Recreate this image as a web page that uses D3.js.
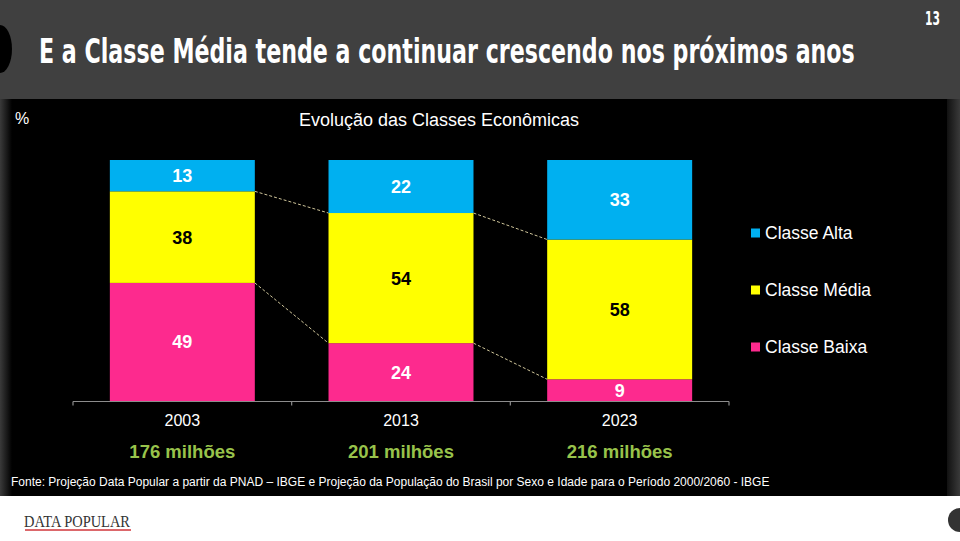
<!DOCTYPE html>
<html><head><meta charset="utf-8">
<script src="https://cdn.jsdelivr.net/npm/d3@7"></script>
<style>html,body{margin:0;padding:0;background:#fff;}svg{display:block;}</style>
</head><body>
<svg id="c" width="960" height="541"></svg>
<script>
const years = ["2003", "2013", "2023"];
const population = ["176 milhões", "201 milhões", "216 milhões"];
const seriesNames = ["Classe Baixa", "Classe Média", "Classe Alta"];
const classeBaixa = [49, 24, 9];
const classeMedia = [38, 54, 58];
const classeAlta = [13, 22, 33];
const legendOrder = ["Classe Alta", "Classe Média", "Classe Baixa"];
const colors = {"Classe Baixa": "#fd2a8e", "Classe Média": "#ffff00", "Classe Alta": "#00b0f0"};
const labelColors = {"Classe Baixa": "#ffffff", "Classe Média": "#000000", "Classe Alta": "#ffffff"};

const rows = years.map((y, i) => ({year: y, "Classe Baixa": classeBaixa[i], "Classe Média": classeMedia[i], "Classe Alta": classeAlta[i]}));
const svg = d3.select("#c");
const defs = svg.append("defs");
const lg = defs.append("linearGradient").attr("id", "lg").attr("x1", 0).attr("x2", 1);
lg.append("stop").attr("offset", 0).attr("stop-color", "#3a3a3a");
lg.append("stop").attr("offset", 1).attr("stop-color", "#000");
const rg = defs.append("linearGradient").attr("id", "rg").attr("x1", 0).attr("x2", 1);
rg.append("stop").attr("offset", 0).attr("stop-color", "#111");
rg.append("stop").attr("offset", 1).attr("stop-color", "#3a3a3a");

// header
svg.append("rect").attr("x", 0).attr("y", 0).attr("width", 960).attr("height", 99).attr("fill", "#404040");
svg.append("path").attr("d", "M0,25 A12,24 0 0 1 0,73 Z").attr("fill", "#000");
const condensed = "'DejaVu Sans Condensed','DejaVu Sans',sans-serif";
function fitText(xp, yp, w, size, str) {
  const gg = svg.append("g");
  const t = gg.append("text").attr("x", 0).attr("y", 0).attr("fill", "#fff")
    .style("font-family", condensed).style("font-weight", "bold").style("font-size", size + "px").text(str);
  const nat = t.node().getComputedTextLength();
  gg.attr("transform", `translate(${xp},${yp}) scale(${w / nat},1)`);
}
fitText(39, 63, 816, 33, "E a Classe Média tende a continuar crescendo nos próximos anos");
fitText(925, 25, 15, 19, "13");

// panel
svg.append("rect").attr("x", 0).attr("y", 99).attr("width", 960).attr("height", 397).attr("fill", "#000");
svg.append("rect").attr("x", 0).attr("y", 99).attr("width", 12).attr("height", 397).attr("fill", "url(#lg)");
svg.append("rect").attr("x", 947).attr("y", 99).attr("width", 13).attr("height", 397).attr("fill", "url(#rg)");

const font = "'Liberation Sans',Arial,Helvetica,sans-serif";
svg.append("text").attr("x", 15).attr("y", 124).attr("fill", "#fff").style("font-family", font).style("font-size", "16px").text("%");
svg.append("text").attr("x", 439).attr("y", 126).attr("text-anchor", "middle").attr("fill", "#fff")
  .style("font-family", font).style("font-size", "18px").text("Evolução das Classes Econômicas");

// scales
const x = d3.scaleBand().domain(years).range([73, 729]).padding(0);
const barW = x.bandwidth() * 0.663;
const y = d3.scaleLinear().domain([0, 100]).range([401, 160]);
const stack = d3.stack().keys(seriesNames)(rows);

// connector dashed lines
const g = svg.append("g");
[0, 1].forEach(si => {
  for (let i = 0; i < years.length - 1; i++) {
    const a = stack[si][i], b = stack[si][i + 1];
    g.append("line")
      .attr("x1", x(years[i]) + (x.bandwidth() + barW) / 2).attr("y1", y(a[1]))
      .attr("x2", x(years[i + 1]) + (x.bandwidth() - barW) / 2).attr("y2", y(b[1]))
      .attr("stroke", "#cfc59a").attr("stroke-width", 1).attr("stroke-dasharray", "3,2");
  }
});

// bars
stack.forEach(s => {
  const gg = svg.append("g");
  gg.selectAll("rect").data(s).join("rect")
    .attr("x", d => x(d.data.year) + (x.bandwidth() - barW) / 2)
    .attr("y", d => y(d[1]))
    .attr("width", barW)
    .attr("height", d => y(d[0]) - y(d[1]))
    .attr("fill", colors[s.key]);
  gg.selectAll("text").data(s).join("text")
    .attr("x", d => x(d.data.year) + x.bandwidth() / 2)
    .attr("y", d => (y(d[0]) + y(d[1])) / 2)
    .attr("dy", "0.36em")
    .attr("text-anchor", "middle")
    .attr("fill", labelColors[s.key])
    .style("font-family", font).style("font-weight", "bold").style("font-size", "18px")
    .text(d => d[1] - d[0]);
});

// axis
const axis = svg.append("g").attr("transform", "translate(0,401.5)");
axis.append("line").attr("x1", 73).attr("x2", 729).attr("stroke", "#8c8c8c").attr("stroke-width", 1.2);
axis.selectAll("line.t").data([...years.map(d => x(d)), 729]).join("line").attr("class", "t")
  .attr("x1", d => d).attr("x2", d => d).attr("y1", 0).attr("y2", 4).attr("stroke", "#8c8c8c").attr("stroke-width", 1.2);
svg.append("g").selectAll("text").data(years).join("text")
  .attr("x", d => x(d) + x.bandwidth() / 2).attr("y", 426).attr("text-anchor", "middle")
  .attr("fill", "#fff").style("font-family", font).style("font-size", "16px").text(d => d);
svg.append("g").selectAll("text").data(population).join("text")
  .attr("x", (d, i) => x(years[i]) + x.bandwidth() / 2).attr("y", 458).attr("text-anchor", "middle")
  .attr("fill", "#98c34b").style("font-family", font).style("font-weight", "bold").style("font-size", "18.5px").text(d => d);

// legend
const leg = svg.append("g");
legendOrder.forEach((k, i) => {
  const cy = 233 + i * 57;
  leg.append("rect").attr("x", 751).attr("y", cy - 4.5).attr("width", 9).attr("height", 9).attr("fill", colors[k]);
  leg.append("text").attr("x", 765).attr("y", cy + 6).attr("fill", "#fff")
    .style("font-family", font).style("font-size", "17.5px").text(k);
});

// source
svg.append("text").attr("x", 11).attr("y", 486).attr("fill", "#fff")
  .style("font-family", font).style("font-size", "12px")
  .text("Fonte: Projeção Data Popular a partir da PNAD – IBGE e  Projeção da População do Brasil por Sexo e Idade para o Período 2000/2060 - IBGE");

// footer
svg.append("text").attr("x", 24).attr("y", 527).attr("fill", "#333")
  .style("font-family", "'Liberation Serif',serif").style("font-size", "17px")
  .attr("textLength", 106).attr("lengthAdjust", "spacingAndGlyphs").text("DATA POPULAR");
svg.append("line").attr("x1", 25).attr("x2", 131).attr("y1", 530).attr("y2", 530).attr("stroke", "#d0343a").attr("stroke-width", 1.5);
svg.append("path").attr("d", "M960,508 A12,12 0 0 0 960,532 Z").attr("fill", "#333");
</script>
</body></html>
